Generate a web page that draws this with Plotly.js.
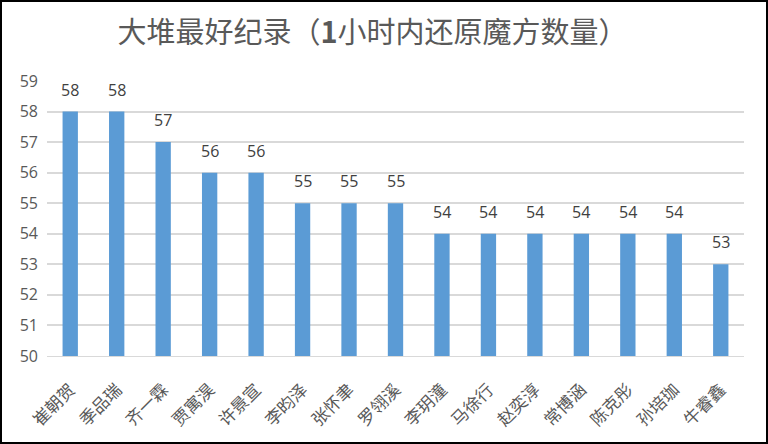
<!DOCTYPE html>
<html><head><meta charset="utf-8">
<script src="https://cdn.plot.ly/plotly-3.0.1.min.js"></script>
<style>
html,body{margin:0;padding:0;background:#fff;}
#frame{width:768px;height:444px;box-sizing:border-box;border:2px solid #000;overflow:hidden;}
#chart{width:764px;height:440px;}
</style></head>
<body><div id="frame"><div id="chart"></div></div>
<script>
const names = ["崔朝贺","季品瑞","齐一霖","贾寓淏","许景宣","李昀泽","张怀聿","罗翎溪","李玥潼","马徐行","赵奕淳","常博涵","陈克彤","孙培珈","牛睿鑫"];
const counts = [58,58,57,56,56,55,55,55,54,54,54,54,54,54,53];
const yTicks = [50,51,52,53,54,55,56,57,58,59];
const titleText = "大堆最好纪录（<b>1</b>小时内还原魔方数量）";

const labels = names.map((n, i) => ({
  x: n, y: counts[i], xref: 'x', yref: 'y',
  text: String(counts[i]), showarrow: false,
  yanchor: 'bottom', yshift: 9,
  font: {family: 'Open Sans, Noto Sans, sans-serif', size: 16, color: '#404040'}
}));

Plotly.newPlot('chart', [{
  type: 'bar',
  x: names,
  y: counts,
  marker: {color: '#5b9bd5'},
  hoverinfo: 'none'
}], {
  width: 764, height: 440,
  margin: {l: 45, r: 22, t: 79, b: 86},
  paper_bgcolor: '#fff', plot_bgcolor: '#fff',
  title: {text: titleText, x: 0.485, xanchor: 'center', y: 0.93, yanchor: 'middle',
          font: {family: 'Noto Sans CJK SC, sans-serif', size: 29, color: '#595959'}},
  bargap: 0.67,
  showlegend: false,
  annotations: labels,
  xaxis: {
    tickangle: -45,
    tickfont: {family: 'Noto Sans CJK SC, sans-serif', size: 17, color: '#595959'},
    ticklabelstandoff: 16,
    showline: true, linecolor: '#d9d9d9', linewidth: 1,
    ticks: '', fixedrange: true
  },
  yaxis: {
    range: [50, 59],
    tickvals: yTicks,
    ticktext: yTicks.map(String),
    tickfont: {family: 'Open Sans, Noto Sans, sans-serif', size: 16, color: '#595959'},
    ticklabelstandoff: 8,
    gridcolor: '#d9d9d9', gridwidth: 2,
    zeroline: false, showline: false, ticks: '',
    fixedrange: true
  }
}, {displayModeBar: false, staticPlot: true});
</script></body></html>
